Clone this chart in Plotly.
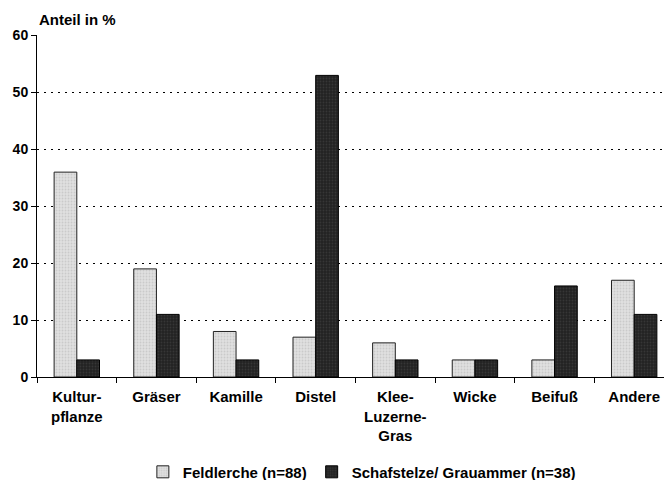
import plotly.graph_objects as go

# --------------
# Data
# --------------
categories = ["Kultur-<br>pflanze", "Gräser", "Kamille", "Distel",
              "Klee-<br>Luzerne-<br>Gras", "Wicke", "Beifuß", "Andere"]
feldlerche = [36, 19, 8, 7, 6, 3, 3, 17]
schafstelze = [3, 11, 3, 53, 3, 3, 16, 11]
y_ticks = [0, 10, 20, 30, 40, 50, 60]

font = dict(family="Liberation Sans, Arial", size=15, color="black", weight="bold")
yfont = dict(family="Liberation Sans, Arial", size=14, color="black", weight="bold")

fig = go.Figure()
fig.add_trace(go.Bar(
    x=categories, y=feldlerche, name="Feldlerche (n=88)",
    marker=dict(color="#e0e0e0", line=dict(color="#222222", width=1),
                pattern=dict(shape=".", fgcolor="#b4b4b4", size=3, solidity=0.3)),
))
fig.add_trace(go.Bar(
    x=categories, y=schafstelze, name="Schafstelze/ Grauammer (n=38)",
    marker=dict(color="#222222", line=dict(color="black", width=1),
                pattern=dict(shape=".", fgcolor="#4a4a4a", size=3, solidity=0.3)),
))

# the page body adds an 8px margin, so margins are shifted by 8px
fig.update_layout(
    width=672, height=480,
    margin=dict(l=29, r=6, t=27, b=111, autoexpand=False),
    paper_bgcolor="white", plot_bgcolor="white",
    font=font,
    barmode="group", bargap=0.43, bargroupgap=0,
    showlegend=True,
    legend=dict(orientation="h", x=0.51, xanchor="center", y=-0.278, yanchor="middle",
                font=font, itemwidth=30, traceorder="normal"),
    xaxis=dict(showline=True, linecolor="black", linewidth=1, automargin=False,
               ticks="outside", ticklen=5, tickcolor="black", tickson="boundaries",
               ticklabelstandoff=6, showgrid=False, tickfont=font),
    yaxis=dict(range=[0, 60.1], tickvals=y_ticks, showline=True, linecolor="black",
               linewidth=1, ticks="outside", ticklen=5, tickcolor="black",
               showgrid=True, gridcolor="black", griddash="2px,5px", gridwidth=1,
               zeroline=False, tickfont=yfont, automargin=False),
    annotations=[dict(text="Anteil in %", x=0, xref="paper", xanchor="left",
                      y=1, yref="paper", yanchor="bottom", yshift=5,
                      showarrow=False, font=font)],
)

fig.write_html("out.html")
